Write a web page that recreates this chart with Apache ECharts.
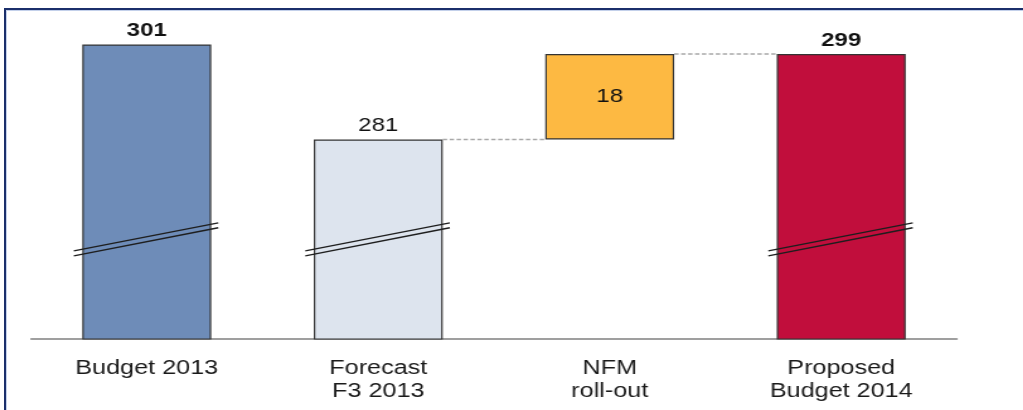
<!DOCTYPE html>
<html>
<head>
<meta charset="utf-8">
<script src="https://cdn.jsdelivr.net/npm/echarts@6/dist/echarts.min.js"></script>
<style>
  html, body { margin: 0; padding: 0; background: #fff; }
  #page { position: relative; width: 1023px; height: 410px; overflow: hidden; background: #fff; }
  /* slide frame: navy rule on top and left with a pale inner line */
  .rule { position: absolute; }
  #topRule { left: 4px; right: 0; top: 8px; height: 2px; background: #1b2f6b; }
  #topRuleLight { left: 6px; right: 0; top: 10px; height: 1px; background: #c3d0ea; }
  #leftRule { left: 4px; top: 8px; bottom: 0; width: 2px; background: #1b2f6b; }
  #leftRuleLight { left: 6px; top: 10px; bottom: 0; width: 1px; background: #c3d0ea; }
  /* the slide artwork is laid out wide, so the drawing surface is stretched horizontally */
  #chart { position: absolute; left: 0; top: 0; width: 812px; height: 410px;
           transform: scaleX(1.26); transform-origin: 0 0; }
</style>
</head>
<body>
<div id="page">
  <div id="chart"></div>
  <div class="rule" id="topRule"></div>
  <div class="rule" id="topRuleLight"></div>
  <div class="rule" id="leftRule"></div>
  <div class="rule" id="leftRuleLight"></div>
</div>
<script>
// Budget bridge: 2013 budget -> F3 forecast -> NFM roll-out -> proposed 2014 budget
const categories = ['Budget 2013', 'Forecast\nF3 2013', 'NFM\nroll-out', 'Proposed\nBudget 2014'];
const totals = [301, 281, '-', 299];        // full bars standing on the axis
const stepBase = ['-', '-', 281, '-'];      // invisible offset under the floating step
const stepDelta = ['-', '-', 18, '-'];      // floating step
const boldTotals = [true, false, false, true];
const barColors = ['#6e8cb8', '#dde4ee', '#fdb942', '#c10e3c'];
// dashed connectors: [from category index, level]
const connectors = [[1, 281], [2, 299]];
// axis break marks drawn across the full bars
const breakLevel = 260;
const breakBars = [0, 1, 3];

const FONT = '"Liberation Sans", Arial, sans-serif';
const BAR_RATIO = 0.557;

const chart = echarts.init(document.getElementById('chart'), null, { renderer: 'canvas' });

const totalItems = totals.map((v, i) => v === '-' ? '-' : {
  value: v,
  itemStyle: { color: barColors[i] },
  label: { fontWeight: boldTotals[i] ? 'bold' : 'normal' }
});
const deltaItems = stepDelta.map((v, i) => v === '-' ? '-' : {
  value: v, itemStyle: { color: barColors[i] }
});

chart.setOption({
  animation: false,
  backgroundColor: 'transparent',
  grid: { left: 24.6, right: 52.5, top: 25.5, bottom: 71, containLabel: false },
  xAxis: {
    type: 'category',
    data: categories,
    axisLine: { lineStyle: { color: '#808080', width: 1.5 } },
    axisTick: { show: false },
    axisLabel: {
      color: '#1a1a1a', fontFamily: FONT, fontSize: 20, lineHeight: 23,
      margin: 18, interval: 0
    }
  },
  yAxis: {
    type: 'value', min: 239, max: 305,
    show: false, splitLine: { show: false }
  },
  series: [
    {
      name: 'Total', type: 'bar', stack: 'bridge', barWidth: (BAR_RATIO * 100) + '%',
      data: totalItems,
      itemStyle: { borderColor: '#333', borderWidth: 1.2 },
      label: {
        show: true, position: 'top', distance: 4,
        color: '#111', fontFamily: FONT, fontSize: 19
      },
      z: 2
    },
    {
      name: 'Offset', type: 'bar', stack: 'bridge', barWidth: (BAR_RATIO * 100) + '%',
      data: stepBase,
      itemStyle: { color: 'transparent', borderWidth: 0 },
      silent: true, z: 1
    },
    {
      name: 'Change', type: 'bar', stack: 'bridge', barWidth: (BAR_RATIO * 100) + '%',
      data: deltaItems,
      itemStyle: { borderColor: '#333', borderWidth: 1.2 },
      label: {
        show: true, position: 'inside',
        color: '#111', fontFamily: FONT, fontSize: 19
      },
      z: 2
    },
    {
      name: 'Connectors', type: 'custom', coordinateSystem: 'cartesian2d',
      data: connectors, silent: true, z: 3,
      renderItem: function (params, api) {
        const idx = api.value(0), level = api.value(1);
        const half = api.size([1, 0])[0] * BAR_RATIO / 2;
        const a = api.coord([idx, level]);
        const b = api.coord([idx + 1, level]);
        return {
          type: 'line',
          shape: { x1: a[0] + half, y1: a[1], x2: b[0] - half, y2: b[1] },
          style: { stroke: '#a8a8a8', lineWidth: 1.3, lineDash: [3.5, 2] }
        };
      }
    },
    {
      name: 'Breaks', type: 'custom', coordinateSystem: 'cartesian2d',
      data: breakBars.map(i => [i, breakLevel]), silent: true, z: 4,
      renderItem: function (params, api) {
        const c = api.coord([api.value(0), api.value(1)]);
        const half = api.size([1, 0])[0] * BAR_RATIO / 2;
        const x1 = c[0] - half - 6.7, x2 = c[0] + half + 5.6;
        const style = { stroke: '#1e1e1e', lineWidth: 1.3 };
        return {
          type: 'group',
          children: [
            { type: 'line', shape: { x1: x1, y1: c[1] + 11.7, x2: x2, y2: c[1] - 16.3 }, style: style },
            { type: 'line', shape: { x1: x1, y1: c[1] + 16.7, x2: x2, y2: c[1] - 11.5 }, style: style }
          ]
        };
      }
    }
  ]
});
</script>
</body>
</html>
